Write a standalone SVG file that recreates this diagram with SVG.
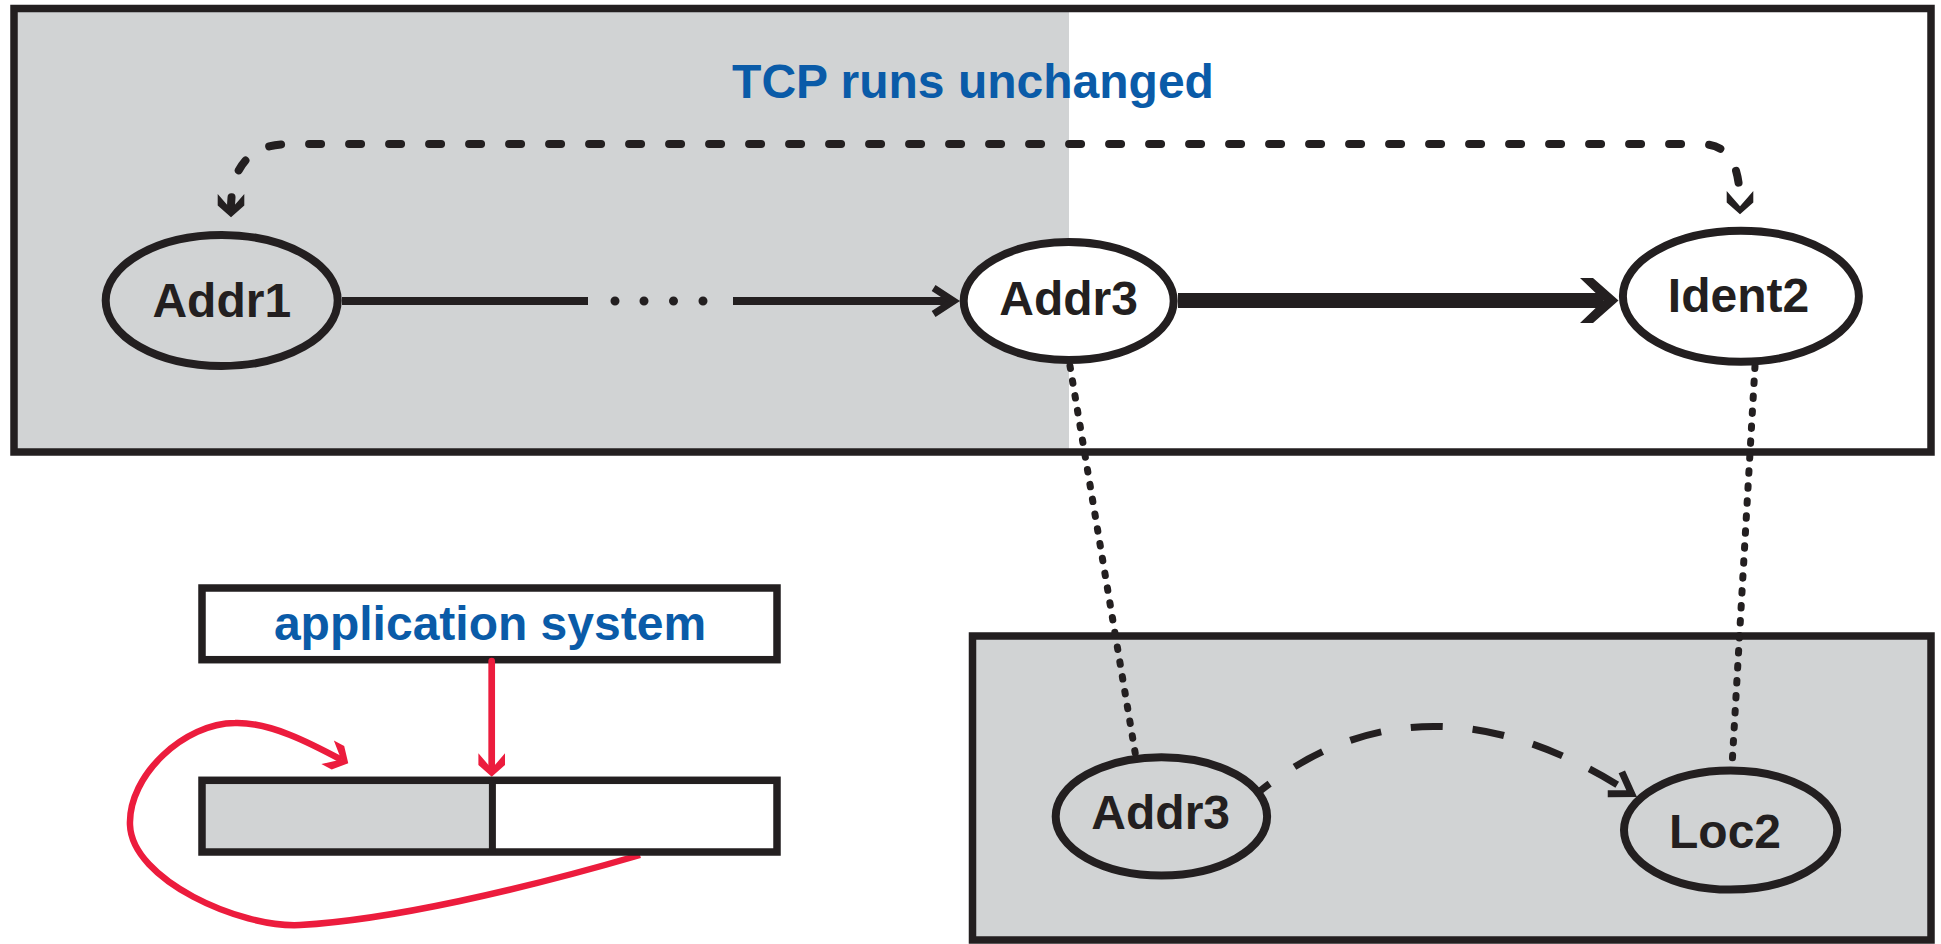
<svg xmlns="http://www.w3.org/2000/svg" width="1941" height="944" viewBox="0 0 1941 944">
<defs>
<style>
.box{stroke:#231f20;stroke-width:7.5;}
.node{stroke:#231f20;stroke-width:8;}
.lbl{font-family:"Liberation Sans",Arial,Helvetica,sans-serif;font-weight:bold;font-size:48px;fill:#231f20;text-anchor:middle;}
.blue{font-family:"Liberation Sans",Arial,Helvetica,sans-serif;font-weight:bold;font-size:48px;fill:#0a5ba8;text-anchor:middle;}
.ln{fill:none;stroke:#231f20;}
.dots{fill:none;stroke:#231f20;stroke-width:7;stroke-linecap:round;stroke-dasharray:2.5 12.5;}
.red{fill:none;stroke:#ec1c3d;}
</style>
<marker id="mNotch" markerUnits="userSpaceOnUse" orient="auto-start-reverse" refX="0" refY="0" markerWidth="60" markerHeight="60" style="overflow:visible">
<polygon points="8,0 -3.7,-13.3 -15.4,-13.3 0,0 -15.4,13.3 -3.7,13.3" fill="#231f20"/>
</marker>
<marker id="mRed" markerUnits="userSpaceOnUse" orient="auto" refX="0" refY="0" markerWidth="60" markerHeight="60" style="overflow:visible">
<polygon points="8,0 -3.7,-13.3 -15.4,-13.3 0,0 -15.4,13.3 -3.7,13.3" fill="#ec1c3d"/>
</marker>
<marker id="mChev" markerUnits="userSpaceOnUse" orient="auto" refX="0" refY="0" markerWidth="60" markerHeight="60" style="overflow:visible">
<polyline points="-20,-13 0,0 -20,13" fill="none" stroke="#231f20" stroke-width="7" stroke-miterlimit="10"/>
</marker>
<marker id="mThick" markerUnits="userSpaceOnUse" orient="auto" refX="0" refY="0" markerWidth="60" markerHeight="60" style="overflow:visible">
<polygon points="15,0 -10.5,-22.5 -23.5,-22.5 0,0 -23.5,22.5 -10.5,22.5" fill="#231f20"/>
</marker>
</defs>

<rect x="0" y="0" width="1941" height="944" fill="#ffffff"/>

<g id="tcp-region">
<rect x="14" y="8.5" width="1917" height="443.5" fill="#ffffff"/>
<rect x="14" y="8.5" width="1055" height="443.5" fill="#d1d3d4"/>
<rect x="14" y="8.5" width="1917" height="443.5" fill="none" class="box"/>
<text class="blue" x="973" y="97.5">TCP runs unchanged</text>
</g>

<g id="lower-region">
<rect x="972.5" y="636" width="958.5" height="304" fill="#d1d3d4" class="box"/>
</g>

<g id="application-system">
<rect x="202" y="588" width="575" height="71.7" fill="#ffffff" class="box"/>
<text class="blue" x="490" y="640">application system</text>
</g>

<g id="red-connectors">
<path class="red" stroke-width="6.5" d="M640 855 C520 890 390 920 300 925 C240 928 132 880 130 825 C128 775 185 723 235 723 C270 722 310 743 341.2 759.6" marker-end="url(#mRed)"/>
<path class="red" stroke-width="6.7" stroke-linecap="round" d="M491.7 661 V768.7" marker-end="url(#mRed)"/>
</g>

<g id="bar">
<rect x="202" y="780.3" width="290.4" height="71.7" fill="#d1d3d4"/>
<rect x="202" y="780.3" width="575" height="71.7" fill="none" class="box"/>
<line x1="492.4" y1="780.3" x2="492.4" y2="852" stroke="#231f20" stroke-width="7"/>
</g>

<g id="connectors">
<path class="ln" stroke-width="8" stroke-linecap="round" stroke-dasharray="12 28" d="M231 209.3 C231 182 238 144 290 144 H1700 C1730 144 1740 165 1740 206.3" marker-start="url(#mNotch)" marker-end="url(#mNotch)"/>
<path class="ln" stroke-width="8" d="M342 301 H588 M733 301 H953.6" marker-end="url(#mChev)"/>
<path class="ln" stroke-width="9" stroke-linecap="round" d="M615 301h0M644 301h0M673.5 301h0M703 301h0"/>
<path class="ln" stroke-width="15" d="M1178 300.5 H1603.5" marker-end="url(#mThick)"/>
<path class="dots" d="M1070 366 L1135.2 753"/>
<path class="dots" d="M1755 366 L1732 766"/>
<path class="ln" stroke-width="7" stroke-dasharray="32 30" stroke-dashoffset="20" d="M1260 791 Q1425 660.5 1631.6 793.6" marker-end="url(#mChev)"/>
</g>

<g id="addr1">
<ellipse cx="221.7" cy="300.5" rx="116" ry="65.5" fill="#d1d3d4" class="node"/>
<text class="lbl" x="221.8" y="316.7">Addr1</text>
</g>
<g id="addr3-top">
<ellipse cx="1068.7" cy="301" rx="105" ry="59" fill="#ffffff" class="node"/>
<text class="lbl" x="1068.6" y="315">Addr3</text>
</g>
<g id="ident2">
<ellipse cx="1740.9" cy="296.2" rx="118" ry="65.5" fill="#ffffff" class="node"/>
<text class="lbl" x="1738.5" y="311.7">Ident2</text>
</g>
<g id="addr3-bottom">
<ellipse cx="1161.4" cy="816.4" rx="105.7" ry="59.1" fill="#d1d3d4" class="node"/>
<text class="lbl" x="1160.7" y="829.3">Addr3</text>
</g>
<g id="loc2">
<ellipse cx="1730.6" cy="830.1" rx="106.6" ry="59.5" fill="#d1d3d4" class="node"/>
<text class="lbl" x="1725" y="848">Loc2</text>
</g>
</svg>
